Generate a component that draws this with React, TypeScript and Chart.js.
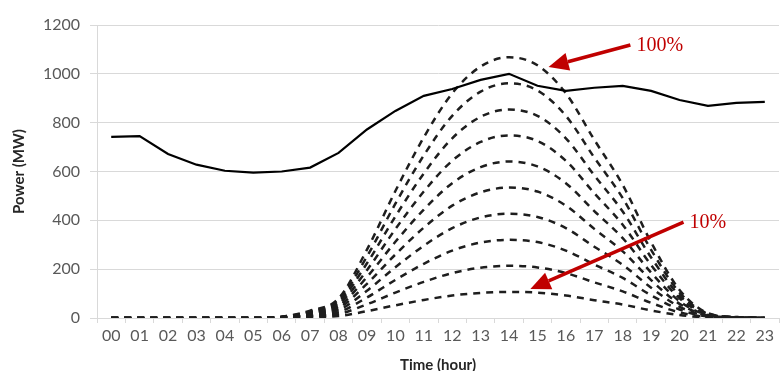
import React, { useEffect, useRef } from 'react';
import { Chart, registerables } from 'chart.js';

Chart.register(...registerables);

const hours = ['00', '01', '02', '03', '04', '05', '06', '07', '08', '09', '10', '11', '12', '13', '14', '15', '16', '17', '18', '19', '20', '21', '22', '23'];

const loadMW = [742, 745, 672, 628, 603, 595, 600, 616, 676, 772, 848, 910, 938, 975, 1000, 951, 930, 943, 951, 930, 893, 869, 881, 885];

const pv10 = [0, 0, 0, 0, 0, 0, 1, 3, 8, 28, 52, 74, 92, 103, 107, 104, 92, 73, 55, 31, 12, 2, 0, 0];
const pv20 = [0, 0, 0, 0, 0, 0, 1, 6, 16, 56, 104, 148, 184, 206, 214, 207, 184, 146, 109, 62, 23, 4, 1, 0];
const pv30 = [0, 0, 0, 0, 0, 0, 2, 9, 24, 84, 156, 222, 276, 309, 320, 311, 276, 219, 164, 93, 35, 6, 1, 0];
const pv40 = [0, 0, 0, 0, 0, 0, 2, 12, 32, 112, 208, 296, 368, 412, 427, 414, 368, 292, 218, 124, 46, 8, 2, 0];
const pv50 = [0, 0, 0, 0, 0, 0, 3, 15, 40, 140, 260, 370, 460, 515, 534, 518, 460, 365, 273, 155, 58, 10, 2, 0];
const pv60 = [0, 0, 0, 0, 0, 0, 3, 18, 48, 168, 312, 444, 552, 618, 641, 621, 552, 438, 327, 186, 69, 12, 2, 0];
const pv70 = [0, 0, 0, 0, 0, 0, 4, 21, 56, 196, 364, 518, 644, 721, 748, 725, 644, 511, 382, 217, 81, 14, 3, 0];
const pv80 = [0, 0, 0, 0, 0, 0, 4, 24, 64, 224, 416, 592, 736, 824, 854, 828, 736, 584, 436, 248, 92, 16, 3, 0];
const pv90 = [0, 0, 0, 0, 0, 0, 5, 27, 72, 252, 468, 666, 828, 927, 961, 932, 828, 657, 491, 279, 104, 18, 4, 0];
const pv100 = [0, 0, 0, 0, 0, 0, 5, 30, 80, 280, 520, 740, 920, 1030, 1068, 1035, 920, 730, 545, 310, 115, 20, 4, 0];

const pvSeries = [pv10, pv20, pv30, pv40, pv50, pv60, pv70, pv80, pv90, pv100];
const pvNames = ['10%', '20%', '30%', '40%', '50%', '60%', '70%', '80%', '90%', '100%'];

// annotations: [hour index, MW]
const noteTexts = ['100%', '10%'];
const noteTails = [[18.27, 1118], [20.14, 393]];
const noteTips = [[15.39, 1028], [14.75, 119]];

const RED = '#C00000';

const arrowPlugin = {
  id: 'arrows',
  afterDatasetsDraw(chart: any) {
    const { ctx, scales } = chart;
    const x = scales.x;
    const y = scales.y;
    ctx.save();
    for (let i = 0; i < noteTexts.length; i++) {
      const tx = x.getPixelForValue(noteTails[i][0]);
      const ty = y.getPixelForValue(noteTails[i][1]);
      const hx = x.getPixelForValue(noteTips[i][0]);
      const hy = y.getPixelForValue(noteTips[i][1]);
      const ang = Math.atan2(hy - ty, hx - tx);
      const headLen = 20;
      const headW = 9;
      const bx = hx - headLen * Math.cos(ang);
      const by = hy - headLen * Math.sin(ang);
      ctx.strokeStyle = RED;
      ctx.fillStyle = RED;
      ctx.lineWidth = 3.5;
      ctx.beginPath();
      ctx.moveTo(tx, ty);
      ctx.lineTo(bx, by);
      ctx.stroke();
      ctx.beginPath();
      ctx.moveTo(hx, hy);
      ctx.lineTo(bx + headW * Math.sin(ang), by - headW * Math.cos(ang));
      ctx.lineTo(bx - headW * Math.sin(ang), by + headW * Math.cos(ang));
      ctx.closePath();
      ctx.fill();
      ctx.font = '20px "Liberation Serif", "DejaVu Serif", serif';
      ctx.textAlign = 'left';
      ctx.textBaseline = 'middle';
      ctx.fillText(noteTexts[i], tx + 6, ty + 1);
    }
    ctx.restore();
  },
};

export default function App() {
  const ref = useRef<HTMLCanvasElement>(null);

  useEffect(() => {
    document.body.style.margin = '0';
    const canvas = ref.current;
    if (!canvas) return;
    const datasets: any[] = [
      {
        label: 'Load',
        data: loadMW,
        borderColor: '#000000',
        borderWidth: 2.2,
        pointRadius: 0,
        tension: 0,
        fill: false,
      },
    ];
    pvSeries.forEach((s, i) => {
      datasets.push({
        label: pvNames[i],
        data: s,
        borderColor: '#1e1e1e',
        borderWidth: 2.5,
        borderDash: [7, 6],
        pointRadius: 0,
        cubicInterpolationMode: 'monotone',
        fill: false,
      });
    });
    const chart = new Chart(canvas, {
      type: 'line',
      data: { labels: hours, datasets },
      options: {
        animation: false,
        responsive: false,
        layout: { padding: { top: 25, right: 2, left: 0, bottom: 0 } },
        plugins: { legend: { display: false }, tooltip: { enabled: false } },
        scales: {
          x: {
            offset: true,
            grid: { offset: true, drawOnChartArea: false, tickLength: 5, color: '#D9D9D9' },
            border: { display: true, color: '#D9D9D9' },
            ticks: { color: '#595959', font: { family: 'Lato', size: 16 }, padding: 3, maxRotation: 0, autoSkip: false },
            title: { display: true, text: 'Time (hour)', color: '#262626', font: { family: 'Lato', size: 15, weight: 'bold' }, padding: { top: 0, bottom: -3 } },
            afterFit: (s: any) => { s.height = 53; },
          },
          y: {
            min: 0,
            max: 1200,
            ticks: { stepSize: 200, color: '#595959', font: { family: 'Lato', size: 16 }, padding: 10, callback: (v: any) => String(v) },
            grid: { color: '#D9D9D9', tickLength: 7 },
            border: { display: true, color: '#D9D9D9' },
            title: { display: true, text: 'Power (MW)', color: '#262626', font: { family: 'Lato', size: 15, weight: 'bold' }, padding: { top: 10, bottom: 0 } },
            afterFit: (s: any) => { s.width = 97; },
          },
        },
      },
      plugins: [arrowPlugin],
    });
    return () => chart.destroy();
  }, []);

  return (
    <div style={{ width: 781, height: 371 }}>
      <canvas ref={ref} width={781} height={371} />
    </div>
  );
}
